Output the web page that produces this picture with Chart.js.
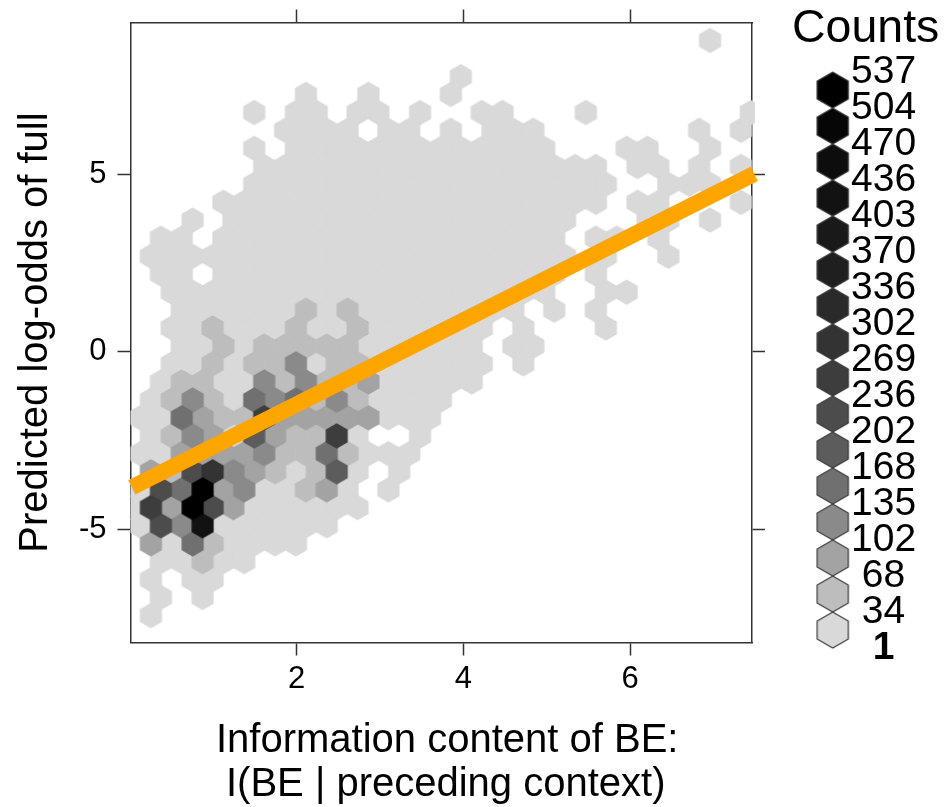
<!DOCTYPE html>
<html>
<head>
<meta charset="utf-8">
<title>Counts</title>
<script src="https://cdn.jsdelivr.net/npm/chart.js@4/dist/chart.umd.min.js"></script>
<style>
    html, body { margin: 0; padding: 0; background: #fff; }
    #wrap { position: relative; width: 944px; height: 807px; overflow: hidden; }
    canvas { position: absolute; top: 0; }
    #plotCanvas { left: 0; }
    #keyCanvas { left: 792px; }
    .xtitle { position: absolute; white-space: nowrap; color: #000; font: 40px/44px "Liberation Sans", Arial, sans-serif; }
</style>
</head>
<body>
<div id="wrap">
    <canvas id="plotCanvas" width="944" height="807"></canvas>
    <canvas id="keyCanvas" width="152" height="807"></canvas>
    <div class="xtitle" id="xTitle1" style="left:216px; top:716px;"></div>
    <div class="xtitle" id="xTitle2" style="left:226px; top:760px;"></div>
</div>
<script>
// ==================== values ====================

const xTickValues = [2, 4, 6];
const yTickValues = [-5, 0, 5];
const xTitle = ['Information content of BE:', 'I(BE | preceding context)'];
const yTitle = 'Predicted log-odds of full';
const keyTitle = 'Counts';

// key: 17 break labels, 16 grey bins between them (light to dark)
const keyLabels = ['1', '34', '68', '102', '135', '168', '202', '236', '269', '302', '336', '370', '403', '436', '470', '504', '537'];
const binColors = ['#d9d9d9', '#bdbdbd', '#a3a3a3', '#8a8a8a', '#707070', '#5c5c5c', '#4c4c4c', '#3d3d3d', '#333333', '#2a2a2a', '#1f1f1f', '#191919', '#121212', '#0d0d0d', '#060606', '#000000'];
const binCodes = 'abcdefghijklmnop';

// hexagon centres, x values of the half-step columns
const colX = [0.00, 0.12, 0.25, 0.37, 0.50, 0.62, 0.75, 0.87, 0.99, 1.12, 1.24, 1.37, 1.49, 1.61, 1.74, 1.86, 1.99, 2.11, 2.24, 2.36, 2.48, 2.61, 2.73, 2.86, 2.98, 3.10, 3.23, 3.35, 3.48, 3.60, 3.73, 3.85, 3.97, 4.10, 4.22, 4.35, 4.47, 4.60, 4.72, 4.84, 4.97, 5.09, 5.22, 5.34, 5.47, 5.59, 5.71, 5.84, 5.96, 6.09, 6.21, 6.34, 6.46, 6.59, 6.71, 6.83, 6.96, 7.08, 7.21, 7.33, 7.45];
const rowY = [8.77, 8.26, 7.75, 7.25, 6.74, 6.24, 5.73, 5.22, 4.72, 4.21, 3.71, 3.20, 2.69, 2.19, 1.68, 1.17, 0.67, 0.16, -0.34, -0.85, -1.36, -1.86, -2.37, -2.87, -3.38, -3.89, -4.39, -4.90, -5.41, -5.91, -6.42, -6.92, -7.43];

// one string per row, top to bottom: a letter is the grey bin of a hexagon, a dot is no hexagon
const hexRows = [
    '............................a',
    '',
    '................a',
    '........a..a...a',
    '......a.aa.aa.a..aa...a.......a',
    '.......aaaa.aa.a.aaa.......a.a',
    '......a.aaaaaaaaaaaaa...aa..a',
    '......aaaaaaaaaaaaaaaaa.aa.a.a',
    '......aaaaaaaaaaaaaaaaaa..aaa',
    '....aaaaaaaaaaaaaaaaaaa.aa...a',
    '...a.aaaaaaaaaaaaaaaaa...aa.a',
    '.aa.aaaaaaaaaaaaaaaaa.aa.a',
    '.aaaaaaaaaaaaaaaaaaaaa.a..a',
    '.aa.aaaaaaaaaaaaaaaaa.a',
    '..aaaaaaaaaaaaaaaaaaa..aa',
    '..aaaaaababaaaaaaaa.a.a',
    '..aabaaabaabaaaaaa.a...a',
    '..aababbbbbaaaaaa.aa',
    '..aababbdabbaaaaaa.a',
    '.abbaadbdbbcaaaaa',
    '.abdbaedebdbaaaa',
    'aaecbbhcccccaaa',
    '.abdcafcbbha..a',
    'aaccccdbbebaaa',
    '.cbgidcbabfa.a',
    'agepcdaabca.a',
    'ahcpgcaaaaaa',
    'agdmaaaaaa',
    '.caebaaaa',
    '.aabaa',
    '.a.aa',
    '.a.a',
    '.a'
];

// fitted line
const lineX = [0.02, 7.49];
const lineY = [-3.82, 5.01];

// ==================== helpers ====================

function makeHex(color, radius, strokeColor, strokeWidth) {
    let w = Math.ceil(Math.sqrt(3) * radius + strokeWidth + 2);
    let h = Math.ceil(2 * radius + strokeWidth + 2);
    let c = document.createElement('canvas');
    c.width = w;
    c.height = h;
    let ctx = c.getContext('2d');
    ctx.translate(w / 2, h / 2);
    ctx.beginPath();
    for (let i = 0; i < 6; i++) {
        let a = Math.PI / 3 * i - Math.PI / 2;
        ctx.lineTo(radius * Math.cos(a), radius * Math.sin(a));
    }
    ctx.closePath();
    ctx.fillStyle = color;
    ctx.fill();
    ctx.strokeStyle = strokeColor;
    ctx.lineWidth = strokeWidth;
    ctx.lineJoin = 'round';
    ctx.stroke();
    return c;
}

function hexPoints(code) {
    let points = [];
    hexRows.forEach((row, r) => {
        // even rows from the top sit on even half-steps, odd rows on odd ones
        let shift = r % 2;
        for (let n = 0; n < row.length; n++) {
            if (row[n] === code) points.push({ x: colX[n * 2 + shift], y: rowY[r] });
        }
    });
    return points;
}

// ==================== main panel ====================

const FONT = '"Liberation Sans", Arial, sans-serif';
const AXIS_COLOR = '#333333';
const xRange = { min: 0.005, max: 7.464 };
const yRange = { min: -8.19, max: 9.276 };

function axisBase(tickValues, range) {
    return {
        type: 'linear',
        min: range.min,
        max: range.max,
        border: { display: true, color: AXIS_COLOR, width: 1.5 },
        grid: { drawOnChartArea: false, drawTicks: true, tickLength: 13, tickColor: AXIS_COLOR, tickWidth: 1.5 },
        afterBuildTicks: axis => { axis.ticks = tickValues.map(v => ({ value: v })); }
    };
}

// the fixed box sizes give the panel its place on the page
function fixBox(axis, size) {
    if (axis.isHorizontal()) axis.height = size;
    else axis.width = size;
    axis.paddingLeft = axis.paddingRight = axis.paddingTop = axis.paddingBottom = 0;
}

let plotDatasets = [{
    label: 'fit',
    data: lineX.map((x, i) => ({ x: x, y: lineY[i] })),
    showLine: true,
    borderColor: '#ffa500',
    borderWidth: 16,
    borderCapStyle: 'butt',
    pointRadius: 0,
    clip: false
}];

// darkest first, so dark hexagons are painted over the light ones
for (let i = binColors.length - 1; i >= 0; i--) {
    plotDatasets.push({
        label: keyLabels[i],
        data: hexPoints(binCodes[i]),
        pointStyle: makeHex(binColors[i], 11.98, binColors[i], 1.4),
        pointRadius: 12,
        clip: { left: 0, right: 3, top: 0, bottom: 0 }
    });
}

new Chart(document.getElementById('plotCanvas').getContext('2d'), {
    type: 'scatter',
    data: { datasets: plotDatasets },
    options: {
        responsive: false,
        animation: false,
        devicePixelRatio: 1,
        layout: { padding: 0, autoPadding: false },
        plugins: { legend: { display: false }, tooltip: { enabled: false }, title: { display: false } },
        scales: {
            x: Object.assign(axisBase(xTickValues, xRange), {
                position: 'bottom',
                ticks: { color: '#000', font: { family: FONT, size: 31 }, padding: 5, maxRotation: 0 },
                afterFit: axis => fixBox(axis, 164.5)
            }),
            x2: Object.assign(axisBase(xTickValues, xRange), {
                position: 'top',
                ticks: { display: false },
                afterFit: axis => fixBox(axis, 22.5)
            }),
            y: Object.assign(axisBase(yTickValues, yRange), {
                position: 'left',
                ticks: { color: '#000', font: { family: FONT, size: 31 }, padding: 11, maxRotation: 0 },
                title: { display: true, text: yTitle, color: '#000', font: { family: FONT, size: 40, lineHeight: 1 }, padding: { top: 16, bottom: 0 } },
                afterFit: axis => fixBox(axis, 130.5)
            }),
            y2: Object.assign(axisBase(yTickValues, yRange), {
                position: 'right',
                ticks: { display: false },
                afterFit: axis => fixBox(axis, 192)
            })
        }
    }
});

document.getElementById('xTitle1').textContent = xTitle[0];
document.getElementById('xTitle2').textContent = xTitle[1];

// ==================== key ====================

let keyBins = binColors.map((c, i) => i + 0.5);

new Chart(document.getElementById('keyCanvas').getContext('2d'), {
    type: 'scatter',
    data: {
        datasets: binColors.map((color, i) => ({
            data: [{ x: 0, y: keyBins[i] }],
            pointStyle: makeHex(color, 18, '#3a3a3a', 1.2),
            pointRadius: 18,
            clip: false
        }))
    },
    options: {
        responsive: false,
        animation: false,
        devicePixelRatio: 1,
        layout: { padding: 0, autoPadding: false },
        plugins: {
            legend: { display: false },
            tooltip: { enabled: false },
            title: {
                display: true,
                text: keyTitle,
                align: 'start',
                color: '#000',
                font: { family: FONT, size: 46.5, weight: 'normal', lineHeight: 1 },
                padding: { top: 6, bottom: 0 }
            }
        },
        scales: {
            x: { type: 'linear', display: false, min: -40.7, max: 18.3 },
            y: {
                type: 'linear',
                position: 'right',
                min: -4.417,
                max: 16.543,
                border: { display: false },
                grid: { display: false, drawTicks: false },
                ticks: {
                    color: '#000',
                    padding: 0,
                    autoSkip: false,
                    crossAlign: 'center',
                    font: ctx => ({ family: FONT, size: 39, weight: ctx.index === 0 ? 'bold' : 'normal' }),
                    callback: v => keyLabels[v]
                },
                afterBuildTicks: axis => { axis.ticks = keyLabels.map((l, i) => ({ value: i })); },
                afterFit: axis => fixBox(axis, 93)
            }
        }
    }
});
</script>
</body>
</html>
